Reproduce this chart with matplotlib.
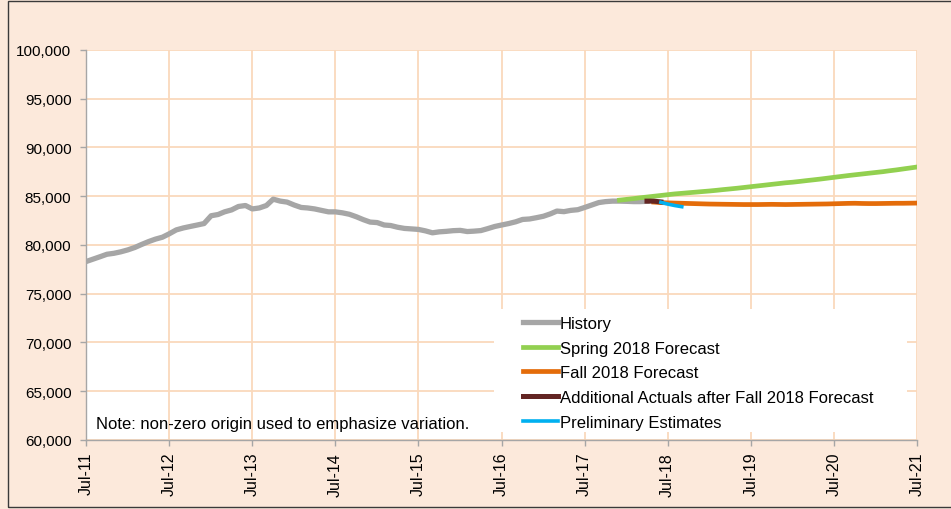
import numpy as np
import pandas as pd
import matplotlib
matplotlib.use('Agg')
import matplotlib.pyplot as plt
from matplotlib.ticker import FuncFormatter
from matplotlib.patches import Rectangle

plt.rcParams['font.family'] = ['Liberation Sans', 'DejaVu Sans']

# monthly series, month 0 = Jul-2011
months = pd.date_range('2011-07-01', periods=121, freq='MS')

history = [78300, 78550, 78800, 79050, 79150, 79300, 79500, 79750, 80050, 80350,
           80600, 80800, 81150, 81550, 81750, 81900, 82050, 82200, 83000, 83130,
           83400, 83600, 83950, 84050, 83700, 83800, 84050, 84700, 84500, 84400,
           84100, 83850, 83800, 83700, 83550, 83400, 83400, 83300, 83150, 82900,
           82600, 82350, 82300, 82050, 82000, 81820, 81700, 81650, 81600, 81450,
           81250, 81350, 81400, 81470, 81500, 81380, 81420, 81480, 81680, 81900,
           82050, 82200, 82380, 82620, 82670, 82800, 82950, 83200, 83480, 83420,
           83550, 83620, 83850, 84100, 84350, 84450, 84500, 84500, 84480, 84450,
           84450, 84480]
history_start = 0

spring = [84600, 84680, 84760, 84840, 84920, 85000, 85080, 85160, 85240, 85300,
          85360, 85420, 85480, 85540, 85610, 85680, 85750, 85820, 85900, 85980,
          86060, 86140, 86220, 86300, 86380, 86440, 86520, 86600, 86680, 86760,
          86850, 86940, 87030, 87120, 87200, 87280, 87360, 87440, 87520, 87610,
          87700, 87800, 87900, 88000]
spring_start = 77

fall = [84400, 84350, 84320, 84300, 84280, 84260, 84240, 84220, 84200, 84190,
        84180, 84170, 84160, 84150, 84150, 84150, 84160, 84170, 84160, 84150,
        84160, 84170, 84180, 84190, 84200, 84210, 84230, 84250, 84270, 84280,
        84260, 84250, 84250, 84260, 84270, 84280, 84280, 84290, 84300]
fall_start = 82

actuals = [84500, 84500, 84420]
actuals_start = 81

prelim = [84380, 84200, 84050, 83930]
prelim_start = 83

tick_labels = ['Jul-11', 'Jul-12', 'Jul-13', 'Jul-14', 'Jul-15', 'Jul-16',
               'Jul-17', 'Jul-18', 'Jul-19', 'Jul-20', 'Jul-21']


def seg(vals, start):
    return months[start:start + len(vals)], vals


bg = '#FCE9DB'
fig = plt.figure(figsize=(9.51, 5.10), dpi=100, facecolor=bg)
fig.patches.append(Rectangle((8 / 951, 2 / 510), 1.0, 506 / 510, transform=fig.transFigure,
                             fill=False, edgecolor='#3a3a3a', linewidth=1.0))
ax = fig.add_axes([86 / 951, 1 - 441 / 510, 831 / 951, 390 / 510])
ax.set_facecolor('white')

grid_c = '#FAD9BC'
ax.grid(True, color=grid_c, linewidth=1.3, zorder=0)
ax.set_axisbelow(True)

ax.plot(*seg(history, history_start), color='#A6A6A6', lw=3.8, label='History', zorder=3)
ax.plot(*seg(spring, spring_start), color='#92D050', lw=3.4, label='Spring 2018 Forecast', zorder=4)
ax.plot(*seg(fall, fall_start), color='#E46C0A', lw=3.4, label='Fall 2018 Forecast', zorder=5)
ax.plot(*seg(actuals, actuals_start), color='#632523', lw=3.6,
        label='Additional Actuals after Fall 2018 Forecast', zorder=6)
ax.plot(*seg(prelim, prelim_start), color='#00B0F0', lw=2.6, label='Preliminary Estimates', zorder=7)

ax.set_xlim(months[0], months[-1])
ax.set_ylim(60000, 100000)
ax.set_yticks(np.arange(60000, 100001, 5000))
ax.yaxis.set_major_formatter(FuncFormatter(lambda v, p: f'{int(v):,}'))
ax.set_xticks(months[::12])
ax.set_xticklabels(tick_labels, rotation=90, va='top', ha='center')

for s in ['top', 'right']:
    ax.spines[s].set_visible(False)
for s in ['left', 'bottom']:
    ax.spines[s].set_color('#A6A6A6')
    ax.spines[s].set_linewidth(1.0)
ax.tick_params(axis='both', colors='#A6A6A6', labelcolor='black',
               length=4.5, width=1.0, direction='out')
ax.tick_params(axis='y', pad=6, labelsize=11)
ax.tick_params(axis='x', pad=4, labelsize=11.5)

# white box behind the legend
ax.add_patch(Rectangle((0.491, 0.0205), 0.497, 0.316, transform=ax.transAxes,
                       facecolor='white', edgecolor='none', zorder=1.5))
leg = ax.legend(loc='upper left', bbox_to_anchor=(0.526, 0.318), frameon=False,
                fontsize=12, handlelength=2.1, handletextpad=0.1, labelspacing=0.58,
                borderpad=0, borderaxespad=0)
leg.set_zorder(10)

fig.text(96 / 951, 1 - 424 / 510, 'Note: non-zero origin used to emphasize variation.',
         fontsize=12, va='center', ha='left')

fig.savefig('out.png', dpi=100, facecolor=bg)
